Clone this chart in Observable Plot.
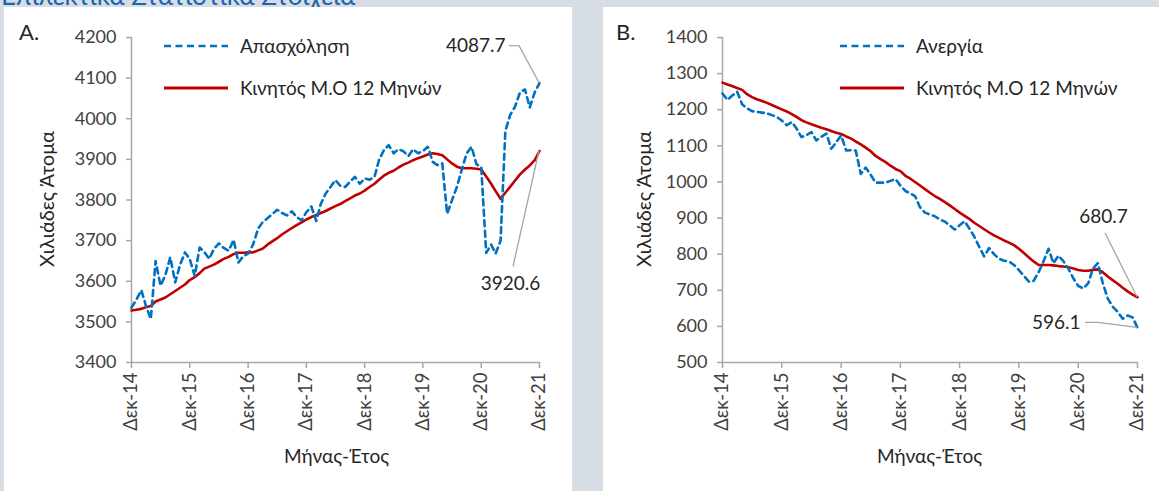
<!DOCTYPE html>
<html>
<head>
<meta charset="utf-8">
<script src="https://cdn.jsdelivr.net/npm/d3@7"></script>
<script src="https://cdn.jsdelivr.net/npm/@observablehq/plot@0.6"></script>
<style>
  html, body { margin: 0; padding: 0; }
  body { width: 1159px; height: 491px; background: #d6dde4; position: relative; overflow: hidden; font-family: Lato, "Noto Sans", sans-serif; color: #404040; }
  .title { position: absolute; left: 1px; top: -21px; font-size: 26px; color: #1a64b4; white-space: nowrap; }
  .panel { position: absolute; top: 7px; height: 484px; background: #fff; }
  .plabel { position: absolute; top: 11px; font-size: 22px; color: #262626; }
  .ytitle { position: absolute; font-size: 20px; transform: rotate(-90deg); transform-origin: center; white-space: nowrap; color: #262626; }
  .xtitle { position: absolute; font-size: 19px; white-space: nowrap; color: #262626; }
  .legend { position: absolute; font-size: 19px; color: #262626; }
  .legend .row { position: absolute; left: 0; white-space: nowrap; display: flex; align-items: center; }
  .legend svg { margin-right: 11px; }
</style>
</head>
<body>
<div class="title">Επιλεκτικά Στατιστικά Στοιχεία</div>
<div class="panel" id="panelA" style="left:4px; width:568px;"></div>
<div class="panel" id="panelB" style="left:603px; width:556px;"></div>
<script>
// ---- Data (monthly, Δεκ-14 ... Δεκ-21) ----
const startMonth = [2014, 11];
const endMonth = [2021, 11];
const yearTicks = [2014, 2015, 2016, 2017, 2018, 2019, 2020, 2021];

const employment = [
  3535, 3555, 3578, 3540, 3507, 3650, 3589, 3615, 3659, 3597, 3640, 3671,
  3655, 3613, 3683, 3672, 3655, 3680, 3693, 3682, 3675, 3702, 3646, 3662,
  3668, 3690, 3729, 3745, 3755, 3765, 3776, 3768, 3762, 3772, 3758, 3750,
  3770, 3784, 3748, 3790, 3816, 3832, 3849, 3835, 3832, 3845, 3857, 3840,
  3853, 3850, 3857, 3898, 3923, 3935, 3915, 3925, 3920, 3908, 3925, 3915,
  3920, 3931, 3894, 3886, 3890, 3766, 3800, 3832, 3875, 3915, 3931, 3888,
  3880, 3670, 3690, 3668, 3700, 3970, 4010, 4030, 4065, 4072, 4028, 4065,
  4087.7
];
const employmentMA = [
  3528, 3530, 3532, 3536, 3539, 3550, 3555, 3560, 3568, 3576, 3584, 3592,
  3603, 3610, 3620, 3631, 3636, 3641, 3648, 3655, 3660, 3667, 3670, 3670,
  3671, 3671, 3676, 3680, 3690, 3698, 3706, 3715, 3723, 3731, 3738, 3745,
  3752, 3758, 3763, 3768, 3773, 3779, 3785, 3790, 3797, 3804, 3811, 3816,
  3823, 3832, 3840, 3850, 3860, 3867, 3872, 3880, 3887, 3892, 3898, 3903,
  3907, 3912, 3915, 3913, 3910, 3900, 3890, 3882, 3878, 3878, 3878, 3877,
  3875, 3858, 3840, 3822, 3803, 3818, 3833, 3848, 3863, 3875, 3885, 3898,
  3920.6
];
const unemployment = [
  1245, 1227, 1240, 1250, 1215, 1204, 1196, 1194, 1192, 1190, 1185, 1180,
  1170, 1157, 1166, 1148, 1124, 1130, 1138, 1115, 1125, 1134, 1092, 1110,
  1129, 1087, 1088, 1087, 1022, 1040, 1020, 998, 998, 998, 1003, 1008,
  990, 975, 968, 961, 930, 915, 910, 905, 896, 890, 880, 868,
  880, 891, 870, 849, 820, 794, 817, 800, 787, 782, 780, 770,
  756, 740, 724, 726, 750, 780, 815, 775, 796, 780, 760, 733,
  712, 705, 720, 760, 775, 720, 677, 655, 640, 621, 630, 625,
  596.1
];
const unemploymentMA = [
  1275, 1270, 1265, 1260, 1255, 1243, 1235, 1229, 1224, 1219, 1213, 1207,
  1201, 1195, 1188, 1180, 1171, 1165, 1160, 1155, 1150, 1146, 1141, 1136,
  1133, 1126, 1120, 1112, 1104, 1095, 1085, 1072, 1063, 1055, 1045, 1036,
  1030, 1017, 1009, 1000, 990, 980, 970, 961, 953, 944, 935, 925,
  915, 906, 897, 887, 878, 869, 860, 852, 845, 838, 832, 825,
  815, 803, 791, 780, 770, 770, 770, 769, 767, 766, 764, 760,
  756, 754, 754, 757, 758, 750, 738, 728, 718, 707, 697, 688,
  680.7
];
const seriesNames = { A: ["Απασχόληση", "Κινητός Μ.Ο 12 Μηνών"], B: ["Ανεργία", "Κινητός Μ.Ο 12 Μηνών"] };
const yDomainA = [3400, 4200];
const yDomainB = [500, 1400];
const yTicksA = [3400, 3500, 3600, 3700, 3800, 3900, 4000, 4100, 4200];
const yTicksB = [500, 600, 700, 800, 900, 1000, 1100, 1200, 1300, 1400];

// ---- Build tables ----
const months = d3.utcMonth.range(
  new Date(Date.UTC(startMonth[0], startMonth[1], 1)),
  new Date(Date.UTC(endMonth[0], endMonth[1] + 1, 1))
);
const decTicks = yearTicks.map(y => new Date(Date.UTC(y, 11, 1)));
const fmtX = d => "Δεκ-" + String(d.getUTCFullYear()).slice(2);
const toRows = vals => vals.map((v, i) => ({ date: months[i], value: v }));

const BLUE = "#0070c0", RED = "#c00000", GRAY = "#a6a6a6";

// leader line mark: offsets (pixels) relative to the data point
function leader(datum, pts) {
  return (index, scales) => {
    const px = scales.x(datum.date), py = scales.y(datum.value);
    const path = d3.create("svg:path")
      .attr("fill", "none").attr("stroke", GRAY).attr("stroke-width", 1.3)
      .attr("d", d3.line()(pts.map(([dx, dy]) => [px + dx, py + dy]).concat([[px, py]])));
    return path.node();
  };
}

function makeChart(opts) {
  const { width, marginLeft, marginRight, yDomain, yTicks, main, ma, annMain, annMa } = opts;
  const mainRows = toRows(main), maRows = toRows(ma);
  const lastMain = mainRows[mainRows.length - 1], lastMa = maRows[maRows.length - 1];
  return Plot.plot({
    width, height: 484,
    marginLeft, marginRight, marginTop: 30, marginBottom: 129,
    style: { fontFamily: "Lato, 'Noto Sans', sans-serif", fontSize: "18px", color: "#404040", background: "transparent", overflow: "visible" },
    x: { type: "utc", domain: [months[0], months[months.length - 1]] },
    y: { domain: yDomain },
    marks: [
      Plot.axisY({ ticks: yTicks, tickSize: 5, tickPadding: 10, stroke: GRAY, strokeWidth: 1.5, fill: "#404040", fontSize: 18, label: null, tickFormat: d => String(d) }),
      Plot.axisX({ ticks: decTicks, tickFormat: fmtX, tickRotate: -90, tickSize: 6, tickPadding: 4, stroke: GRAY, strokeWidth: 1.5, fill: "#404040", fontSize: 18.5, label: null }),
      Plot.ruleX([months[0]], { stroke: GRAY, strokeWidth: 1.5 }),
      Plot.ruleY([yDomain[0]], { stroke: GRAY, strokeWidth: 1.5 }),
      Plot.line(maRows, { x: "date", y: "value", stroke: RED, strokeWidth: 2.6 }),
      Plot.line(mainRows, { x: "date", y: "value", stroke: BLUE, strokeWidth: 2.6, strokeDasharray: "6,4.5" }),
      leader(lastMain, annMain.line),
      leader(lastMa, annMa.line),
      Plot.text([lastMain], { x: "date", y: "value", text: d => d.value.toFixed(1), dx: annMain.dx, dy: annMain.dy, textAnchor: annMain.anchor, fill: "#262626", fontSize: 19 }),
      Plot.text([lastMa], { x: "date", y: "value", text: d => d.value.toFixed(1), dx: annMa.dx, dy: annMa.dy, textAnchor: annMa.anchor, fill: "#262626", fontSize: 19 })
    ]
  });
}

function legendHTML(names, left, top) {
  return `<div class="legend" style="left:${left}px; top:${top}px;">
    <div class="row" style="top:0px;"><svg width="66" height="6"><line x1="1" y1="3" x2="65" y2="3" stroke="${BLUE}" stroke-width="2.6" stroke-dasharray="7,4.5"/></svg><span>${names[0]}</span></div>
    <div class="row" style="top:42px;"><svg width="66" height="6"><line x1="1" y1="3" x2="65" y2="3" stroke="${RED}" stroke-width="2.8"/></svg><span>${names[1]}</span></div>
  </div>`;
}

// Panel A
const pA = document.getElementById("panelA");
pA.append(makeChart({
  width: 568, marginLeft: 127, marginRight: 33,
  yDomain: yDomainA, yTicks: yTicksA, main: employment, ma: employmentMA,
  annMain: { dx: -34, dy: -37, anchor: "end", line: [[-30, -37], [-20, -37]] },
  annMa: { dx: -29, dy: 133, anchor: "middle", line: [[-26, 116]] }
}));
pA.insertAdjacentHTML("beforeend", `<div class="plabel" style="left:15px;">A.</div>
  <div class="ytitle" style="left:-33px; top:180px; width:150px; text-align:center;">Χιλιάδες Άτομα</div>
  <div class="xtitle" style="left:280px; top:437px;">Μήνας-Έτος</div>`
  + legendHTML(seriesNames.A, 159, 27));

// Panel B
const pB = document.getElementById("panelB");
pB.append(makeChart({
  width: 556, marginLeft: 119, marginRight: 22,
  yDomain: yDomainB, yTicks: yTicksB, main: unemployment, ma: unemploymentMA,
  annMain: { dx: -57, dy: -5, anchor: "end", line: [[-52, -5], [-39, -5]] },
  annMa: { dx: -34, dy: -80, anchor: "middle", line: [[-32, -64]] }
}));
pB.insertAdjacentHTML("beforeend", `<div class="plabel" style="left:13px;">B.</div>
  <div class="ytitle" style="left:-35px; top:180px; width:150px; text-align:center;">Χιλιάδες Άτομα</div>
  <div class="xtitle" style="left:274px; top:437px;">Μήνας-Έτος</div>`
  + legendHTML(seriesNames.B, 236, 27));
</script>
</body>
</html>
